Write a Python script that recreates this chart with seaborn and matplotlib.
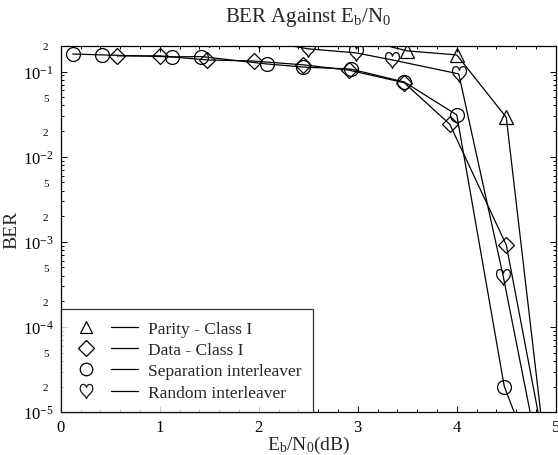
import numpy as np
import pandas as pd
import matplotlib
matplotlib.use("Agg")
import matplotlib.pyplot as plt
import seaborn as sns
from matplotlib.ticker import LogLocator, FuncFormatter, MultipleLocator
from matplotlib.lines import Line2D
from matplotlib.legend_handler import HandlerTuple

# BER curves (points outside the axes are clipped)
ebn0_parity = [0.0, 0.5, 1.0, 1.5, 2.0, 2.5, 3.0, 3.5, 4.0, 4.5, 5.0]
ber_parity = [0.26, 0.26, 0.255, 0.255, 0.25, 0.25, 0.245, 0.175, 0.157, 0.029, 3e-7]

ebn0_data = [0.57, 1.0, 1.48, 1.95, 2.45, 2.91, 3.47, 3.93, 4.5, 5.0]
ber_data = [0.153, 0.153, 0.137, 0.133, 0.120, 0.104, 0.074, 0.024, 9.2e-4, 8e-7]

ebn0_sep = [0.12, 0.42, 1.12, 1.42, 2.08, 2.45, 2.93, 3.47, 4.0, 4.48, 5.0]
ber_sep = [0.161, 0.157, 0.149, 0.150, 0.123, 0.113, 0.107, 0.0755, 0.031, 2.0e-5, 5.4e-7]

ebn0_rand = [0.0, 0.5, 1.0, 1.5, 2.0, 2.5, 2.98, 3.35, 4.02, 4.47, 5.0]
ber_rand = [0.25, 0.25, 0.245, 0.24, 0.235, 0.185, 0.166, 0.137, 0.094, 3.9e-4, 3e-7]

labels = ["Parity - Class I", "Data - Class I",
          "Separation interleaver", "Random interleaver"]

sns.set_style("ticks")
plt.rcParams["font.family"] = ["Liberation Serif", "DejaVu Serif"]
plt.rcParams["mathtext.fontset"] = "custom"
plt.rcParams["mathtext.rm"] = "Liberation Serif"
plt.rcParams["mathtext.it"] = "Liberation Serif:italic"

fig = plt.figure(figsize=(5.58, 4.56), dpi=100)
ax = fig.add_axes([0.109, 0.094, 0.887, 0.803])

series = [
    (ebn0_parity, ber_parity, "^", "none", 9.5, 0.9),
    (ebn0_data, ber_data, "D", "none", 8.5, 0.9),
    (ebn0_sep, ber_sep, "o", "none", 10, 0.9),
    (ebn0_rand, ber_rand, r"$\heartsuit$", "black", 12, 0.25),
]

handles = []
for (xs, ys, mk, mfc, ms, mew), lab in zip(series, labels):
    df = pd.DataFrame({"x": xs, "y": ys})
    sns.lineplot(data=df, x="x", y="y", ax=ax, sort=False, color="black",
                 lw=0.9, marker=mk, markersize=ms, markerfacecolor=mfc,
                 markeredgecolor="black", markeredgewidth=mew)
    m = Line2D([], [], ls="none", marker=mk, markersize=ms * 0.9,
               markerfacecolor=mfc, markeredgecolor="black",
               markeredgewidth=mew)
    l = Line2D([], [], color="black", lw=0.9)
    handles.append((m, l))

ax.set_yscale("log")
ax.set_xlim(0, 5)
ax.set_ylim(1e-5, 0.2)

ax.xaxis.set_major_locator(MultipleLocator(1))
ax.xaxis.set_minor_locator(MultipleLocator(0.2))
ax.yaxis.set_major_locator(LogLocator(base=10, numticks=10))
ax.yaxis.set_minor_locator(LogLocator(base=10, subs=np.arange(2, 10), numticks=20))


def minor_fmt(v, pos):
    mant = v / 10 ** np.floor(np.log10(v) + 1e-9)
    r = int(round(mant))
    return str(r) if r in (2, 5) else ""


ax.yaxis.set_minor_formatter(FuncFormatter(minor_fmt))
ax.tick_params(which="both", direction="in", top=True, right=True,
               colors="black", width=0.7)
ax.tick_params(which="major", length=4, labelsize=12, pad=5)
ax.tick_params(which="minor", length=2, labelsize=8, pad=9)
ax.tick_params(axis="x", which="minor", labelbottom=False)
for s in ax.spines.values():
    s.set_linewidth(0.9)
    s.set_color("black")

ax.set_title(r"BER Against E$_\mathrm{b}$/N$_0$", fontsize=15, pad=18)
ax.set_xlabel(r"E$_\mathrm{b}$/N$_0$(dB)", fontsize=14, labelpad=-1)
ax.set_ylabel("BER", fontsize=14, labelpad=2)

leg = ax.legend(handles, labels, loc="lower left", fontsize=12.5,
                handler_map={tuple: HandlerTuple(ndivide=None, pad=0.7)},
                handlelength=3.8, handletextpad=0.6, borderaxespad=0,
                frameon=True, fancybox=False, edgecolor="black",
                labelspacing=0.3, borderpad=0.65)
leg.get_frame().set_linewidth(0.9)

fig.savefig("out.png", dpi=100)
